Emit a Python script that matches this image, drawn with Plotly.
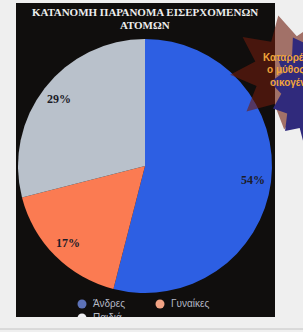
import math
import plotly.graph_objects as go

# ---------------- data ----------------
categories = ["Άνδρες", "Γυναίκες", "Παιδιά"]
values = [54, 17, 29]
title_lines = ["ΚΑΤΑΝΟΜΗ ΠΑΡΑΝΟΜΑ ΕΙΣΕΡΧΟΜΕΝΩΝ", "ΑΤΟΜΩΝ"]
inset_lines = ["Καταρρέει", "ο μύθος της", "οικογένειας"]

# ---------------- styling / layout constants ----------------
slice_colors = ["#2d5fe3", "#fb7b52", "#b9c1cb"]
legend_colors = ["#5d72b8", "#f2a384", "#f0f0f4"]
W, H = 303, 332
CX, CY, R = 145, 166, 127           # pie centre / radius in px
PANEL = (16, 3, 275, 317)            # dark panel in px
LABEL_R = 0.86                       # radial position of % labels
legend_pos = [(82, 304), (160, 304), (82, 318)]


def px(x):
    return x / W


def py(y):
    return 1 - y / H


def star_path(cx, cy, rx, ry, inner, n, phase=0.0):
    pts = []
    for i in range(2 * n):
        a = phase + math.pi * i / n
        f = 1.0 if i % 2 == 0 else inner
        pts.append((cx + rx * f * math.cos(a), cy + ry * f * math.sin(a)))
    return "M " + " L ".join(f"{x:.1f},{y:.1f}" for x, y in pts) + " Z"


fig = go.Figure()

fig.add_trace(go.Pie(
    labels=categories, values=values, sort=False, direction="clockwise", rotation=0,
    marker=dict(colors=slice_colors, line=dict(width=0)),
    textinfo="none", hoverinfo="label+percent", showlegend=False,
    domain=dict(x=[px(CX - R), px(CX + R)], y=[py(CY + R), py(CY - R)]),
))

# legend drawn as a trace on hidden pixel axes (so the panel edge can clip it)
fig.add_trace(go.Scatter(
    x=[p[0] for p in legend_pos], y=[p[1] for p in legend_pos], mode="markers",
    marker=dict(size=9, color=legend_colors), hoverinfo="skip", showlegend=False,
))
fig.add_trace(go.Scatter(
    x=[p[0] + 11 for p in legend_pos], y=[p[1] for p in legend_pos], mode="text",
    text=categories, textposition="middle right",
    textfont=dict(size=10, color="#b4b8c4", family="Liberation Sans"),
    hoverinfo="skip", showlegend=False,
))

annotations = []
total = sum(values)
cum = 0
for v in values:
    mid = (cum + v / 2) / total * 2 * math.pi
    cum += v
    annotations.append(dict(
        x=px(CX + LABEL_R * R * math.sin(mid)), y=py(CY - LABEL_R * R * math.cos(mid)),
        xref="paper", yref="paper", xanchor="center", yanchor="middle", showarrow=False,
        text=f"<b>{round(100 * v / total)}%</b>",
        font=dict(size=12, color="#1c1c28", family="Liberation Serif"),
    ))

# title
for i, t in enumerate(title_lines):
    annotations.append(dict(
        x=px(145), y=py(12 + 13 * i), xref="paper", yref="paper",
        xanchor="center", yanchor="middle", showarrow=False,
        text=f"<b>{t}</b>", font=dict(size=11, color="#ececec", family="Liberation Serif"),
    ))

# inset text of the neighbouring graphic (clipped at the right edge, as in the scan)
for i, (t, x0) in enumerate(zip(inset_lines, [261, 265, 268])):
    annotations.append(dict(
        x=px(x0), y=py(57 + 13 * i), xref="paper", yref="paper",
        xanchor="left", yanchor="middle",
        showarrow=False, text=f"<b>{t}</b>",
        font=dict(size=10, color="#f0a43a", family="Liberation Sans"),
    ))

shapes = [
    dict(type="rect", xref="paper", yref="paper", layer="below",
         x0=px(PANEL[0]), x1=px(PANEL[2]), y0=py(PANEL[3]), y1=py(PANEL[1]),
         fillcolor="#100e0d", line=dict(width=0)),
    dict(type="path", xref="x", yref="y", layer="above",
         path=star_path(292, 72, 62, 58, 0.62, 9, 0.3),
         fillcolor="rgba(110,28,14,0.6)", line=dict(width=0)),
    dict(type="path", xref="x", yref="y", layer="above",
         path=star_path(320, 88, 50, 60, 0.78, 14, 0.1),
         fillcolor="#302a7c", line=dict(width=0)),
    dict(type="rect", xref="x", yref="y", layer="above",
         x0=0, x1=W, y0=PANEL[3], y1=H, fillcolor="#efefef", line=dict(width=0)),
    dict(type="line", xref="x", yref="y", layer="above",
         x0=0, x1=W, y0=329, y1=329, line=dict(color="#c4c4c4", width=1)),
]

fig.update_layout(
    width=W, height=H, margin=dict(l=0, r=0, t=0, b=0),
    paper_bgcolor="#efefef", plot_bgcolor="rgba(0,0,0,0)",
    xaxis=dict(visible=False, range=[0, W], domain=[0, 1], fixedrange=True),
    yaxis=dict(visible=False, range=[H, 0], domain=[0, 1], fixedrange=True),
    showlegend=False, annotations=annotations, shapes=shapes,
)

fig.write_html(
    "out.html",
    config={"displayModeBar": False},
    post_script="document.body.style.margin='0';document.body.style.overflow='hidden';",
)
